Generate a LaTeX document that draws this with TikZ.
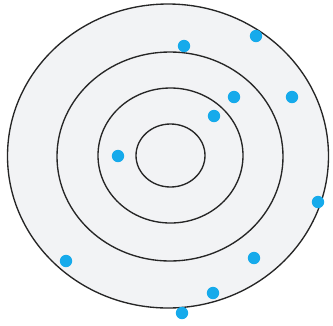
\documentclass[tikz,border=0pt]{standalone}
\usepackage{xcolor}
\usepackage{tikz}
\usetikzlibrary{positioning}

\definecolor{ringfill}{RGB}{242,243,245}
\definecolor{dotblue}{RGB}{22,170,235}

\begin{document}
\begin{tikzpicture}[x=0.3mm, y=-0.3mm,
  ring/.style={line width=1.15pt, draw=black!85},
  bluedot/.style={fill=dotblue}]
  \useasboundingbox (0,0) rectangle (333,325);

  % target rings (slightly flattened)
  \draw[ring, fill=ringfill] (168,156) ellipse (160.5 and 152);
  \draw[ring] (170,156.5) ellipse (113 and 104.5);
  \draw[ring] (170.5,155.5) ellipse (72.5 and 67.5);
  \draw[ring] (170.5,155.5) ellipse (34.5 and 31.5);

  % hits
  \foreach \px/\py in {184/46, 256/36, 234/97, 292/97, 214/116, 118/156,
                       318/202, 66/261, 254/258, 213/293, 182/313}
    \fill[bluedot] (\px,\py) circle (6.2);
\end{tikzpicture}
\end{document}
